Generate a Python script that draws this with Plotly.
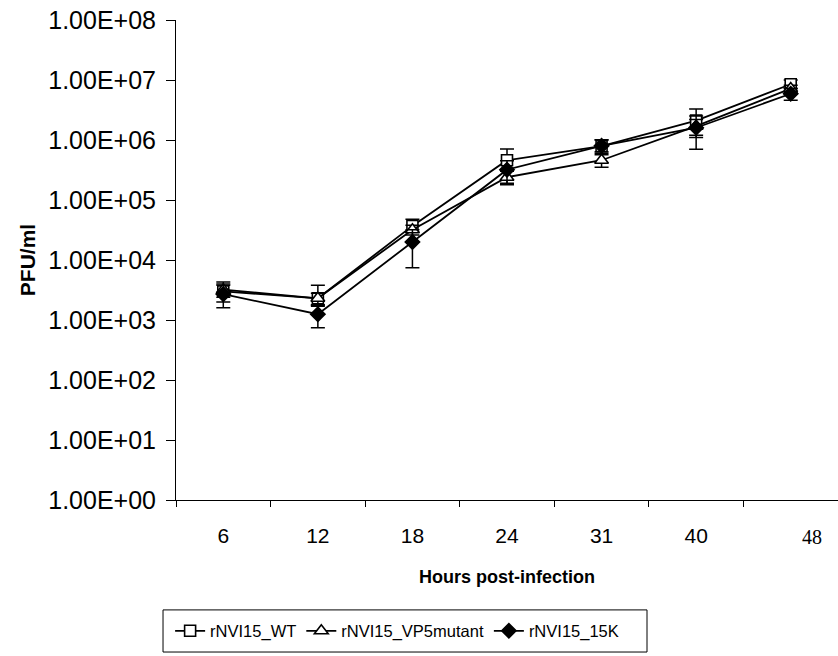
import plotly.graph_objects as go

# Sampling times (hours post-infection)
hours = ["6", "12", "18", "24", "31", "40", "48"]
hour_labels = ["6", "12", "18", "24", "31", "40", ""]  # last label is set in a serif face below

# Virus titres (PFU/ml)
wt_titre = [3.0e3, 2.3e3, 3.7e4, 4.6e5, 7.9e5, 2.1e6, 8.5e6]
vp5_titre = [3.2e3, 2.3e3, 3.2e4, 2.4e5, 4.6e5, 1.7e6, 7.2e6]
k15_titre = [2.7e3, 1.25e3, 2.0e4, 3.2e5, 8.0e5, 1.6e6, 5.9e6]

# Error bars (PFU/ml, upper / lower)
wt_err_up = [1.3e3, 1.5e3, 1.1e4, 2.5e5, 2.2e5, 1.2e6, 1.5e6]
wt_err_dn = [1.0e3, 0.6e3, 0.8e4, 1.5e5, 1.5e5, 1.0e6, 1.3e6]
vp5_err_up = [0.8e3, 0.5e3, 0.6e4, 0.6e5, 1.1e5, 0.5e6, 1.0e6]
vp5_err_dn = [0.8e3, 0.5e3, 0.6e4, 0.6e5, 1.1e5, 0.5e6, 1.0e6]
k15_err_up = [1.1e3, 0.51e3, 1.2e4, 1.3e5, 2.0e5, 0.9e6, 1.3e6]
k15_err_dn = [1.1e3, 0.51e3, 1.26e4, 1.3e5, 2.0e5, 0.9e6, 1.3e6]

series = [
    ("rNVI15_WT", wt_titre, wt_err_up, wt_err_dn, "square", "white", 11),
    ("rNVI15_VP5mutant", vp5_titre, vp5_err_up, vp5_err_dn, "triangle-up", "white", 12),
    ("rNVI15_15K", k15_titre, k15_err_up, k15_err_dn, "diamond", "black", 11),
]

fig = go.Figure()
for name, vals, eup, edn, sym, fill, size in series:
    fig.add_trace(go.Scatter(
        x=hours, y=vals, name=name, mode="lines+markers",
        line=dict(color="black", width=1.8),
        marker=dict(symbol=sym, size=size, color=fill,
                    line=dict(color="black", width=1.6)),
        error_y=dict(type="data", symmetric=False, array=eup, arrayminus=edn,
                     color="black", thickness=1.5, width=7),
    ))

last_idx = len(hours) - 1

fig.update_layout(
    width=838, height=656,
    margin=dict(l=176, r=0, t=20, b=156),
    paper_bgcolor="white", plot_bgcolor="white",
    font=dict(family="Liberation Sans, Arial", color="black"),
    showlegend=True,
    legend=dict(
        orientation="h", xref="container", yref="container",
        x=0.203, xanchor="left", y=0.038, yanchor="middle",
        borderwidth=0, bgcolor="rgba(0,0,0,0)",
        font=dict(size=16.5, family="Liberation Sans, Arial"),
        itemwidth=30, tracegroupgap=0,
    ),
    shapes=[
        # frame around the legend
        dict(type="rect", xref="paper", yref="paper",
             x0=-0.0196, x1=0.7115, y0=-0.3167, y1=-0.229,
             line=dict(color="black", width=1), fillcolor="rgba(0,0,0,0)",
             layer="below"),
    ],
    annotations=[
        dict(text=hours[last_idx], x=last_idx, xref="x", y=0, yref="paper",
             yanchor="middle", xanchor="center", showarrow=False,
             xshift=21, yshift=-37,
             font=dict(family="Liberation Serif, Times New Roman", size=20, color="black")),
    ],
)

fig.update_xaxes(
    type="category", categoryorder="array", categoryarray=hours,
    range=[-0.5, last_idx + 0.5],
    tickmode="array", tickvals=hours, ticktext=hour_labels,
    tickson="boundaries", ticks="outside", ticklen=6, tickcolor="black",
    showline=True, linecolor="black", linewidth=1,
    showgrid=False, zeroline=False,
    tickfont=dict(size=21), ticklabelstandoff=17,
    title=dict(text="<b>Hours post-infection</b>", font=dict(size=18), standoff=24),
)

y_tickvals = [1e0, 1e1, 1e2, 1e3, 1e4, 1e5, 1e6, 1e7, 1e8]
y_ticktext = ["1.00E+00", "1.00E+01", "1.00E+02", "1.00E+03", "1.00E+04",
              "1.00E+05", "1.00E+06", "1.00E+07", "1.00E+08"]

fig.update_yaxes(
    type="log", range=[0, 8],
    tickmode="array", tickvals=y_tickvals, ticktext=y_ticktext,
    ticks="outside", ticklen=9, tickcolor="black",
    showline=True, linecolor="black", linewidth=1,
    showgrid=False, zeroline=False,
    tickfont=dict(size=25), ticklabelstandoff=5,
    title=dict(text="<b>PFU/ml</b>", font=dict(size=21), standoff=6),
)

fig.write_html("out.html")
